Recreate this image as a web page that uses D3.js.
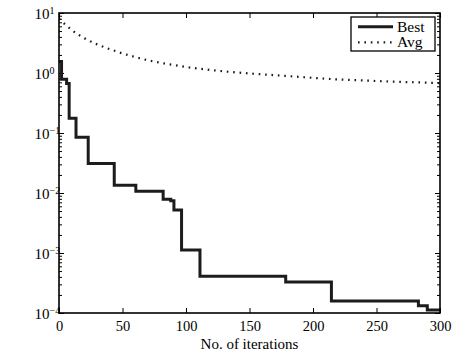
<!DOCTYPE html>
<html><head><meta charset="utf-8">
<script src="https://cdn.jsdelivr.net/npm/d3@7"></script>
<style>body{margin:0;background:#fff}</style>
</head><body>
<svg id="c" width="464" height="358"></svg>
<script>
const xTickValues = [0, 50, 100, 150, 200, 250, 300];
const yExponents = [1, 0, -1, -2, -3, -4];
const seriesNames = ["Best", "Avg"];
const xLabel = "No. of iterations";

const bestIter = [0, 2, 6, 8, 13.4, 23, 43.5, 60.5, 82, 88, 90.5, 96.5, 111, 178.5, 214.5, 283, 290, 300];
const bestVal  = [1.55, 0.79, 0.67, 0.176, 0.085, 0.031, 0.0135, 0.0107, 0.0079, 0.0074, 0.0052, 0.00112, 0.00041, 0.00033, 0.000158, 0.000132, 0.000112, 0.000112];

const avgIter = [0, 5, 10, 15, 20, 30, 40, 50, 60, 70, 80, 90, 100, 120, 140, 160, 180, 200, 220, 240, 260, 280, 300];
const avgVal  = [8.0, 6.4, 5.2, 4.4, 3.8, 3.0, 2.5, 2.12, 1.85, 1.63, 1.48, 1.36, 1.26, 1.12, 1.02, 0.95, 0.89, 0.83, 0.78, 0.75, 0.72, 0.70, 0.68];

const svg = d3.select("#c");
const font = "'Liberation Serif','Times New Roman',serif";
const X0 = 59, X1 = 440, Y0 = 13, Y1 = 313;
const x = d3.scaleLinear().domain([0, 300]).range([X0, X1]);
const y = d3.scaleLog().domain([1e-4, 1e1]).range([Y1, Y0]);

svg.append("rect").attr("width", 464).attr("height", 358).attr("fill", "#fff");

const minor = [];
for (let e = -4; e < 1; e++) for (let k = 2; k <= 9; k++) minor.push(k * Math.pow(10, e));
const major = yExponents.map(e => Math.pow(10, e));

function styleAxis(g) {
  g.select(".domain").remove();
  g.selectAll("line").attr("stroke", "#000").attr("stroke-width", 1);
}

// x axis bottom
const gx = svg.append("g").attr("transform", `translate(0,${Y1})`)
  .call(d3.axisBottom(x).tickValues(xTickValues).tickSize(-5).tickPadding(8).tickFormat(d3.format("d")));
styleAxis(gx);
gx.selectAll("text").attr("font-family", font).attr("font-size", 14.5).attr("fill", "#000");
// x axis top
const gxt = svg.append("g").attr("transform", `translate(0,${Y0})`)
  .call(d3.axisTop(x).tickValues(xTickValues).tickSize(-5).tickFormat(""));
styleAxis(gxt);

// y axis left major
const gy = svg.append("g").attr("transform", `translate(${X0},0)`)
  .call(d3.axisLeft(y).tickValues(major).tickSize(-5).tickPadding(0).tickFormat(""));
styleAxis(gy);
gy.selectAll(".tick").each(function (d) {
  const e = Math.round(Math.log10(d));
  const t = d3.select(this).append("text")
    .attr("x", -24.5).attr("y", 5).attr("text-anchor", "start")
    .attr("font-family", font).attr("font-size", 15).attr("fill", "#000");
  t.append("tspan").text("10");
  t.append("tspan").attr("font-size", 10).attr("dy", -5).text(e < 0 ? "\u2212" + (-e) : String(e));
});
const gym = svg.append("g").attr("transform", `translate(${X0},0)`)
  .call(d3.axisLeft(y).tickValues(minor).tickSize(-3).tickFormat(""));
styleAxis(gym);
// y axis right
const gyr = svg.append("g").attr("transform", `translate(${X1},0)`)
  .call(d3.axisRight(y).tickValues(major).tickSize(-5).tickFormat(""));
styleAxis(gyr);
const gyrm = svg.append("g").attr("transform", `translate(${X1},0)`)
  .call(d3.axisRight(y).tickValues(minor).tickSize(-3).tickFormat(""));
styleAxis(gyrm);

// clip
svg.append("clipPath").attr("id", "clip").append("rect")
  .attr("x", X0).attr("y", Y0 - 2).attr("width", X1 - X0).attr("height", Y1 - Y0 + 2);

const best = bestIter.map((v, i) => [v, bestVal[i]]);
const avg = avgIter.map((v, i) => [v, avgVal[i]]);

svg.append("path").datum(avg).attr("clip-path", "url(#clip)")
  .attr("fill", "none").attr("stroke", "#1a1a1a").attr("stroke-width", 2.2)
  .attr("stroke-dasharray", "1.6,4.8")
  .attr("d", d3.line().x(d => x(d[0])).y(d => y(d[1])).curve(d3.curveMonotoneX));

svg.append("path").datum(best).attr("clip-path", "url(#clip)")
  .attr("fill", "none").attr("stroke", "#1c1c1c").attr("stroke-width", 3)
  .attr("d", d3.line().x(d => x(d[0])).y(d => y(d[1])).curve(d3.curveStepAfter));

// frame
svg.append("rect").attr("x", X0).attr("y", Y0).attr("width", X1 - X0).attr("height", Y1 - Y0)
  .attr("fill", "none").attr("stroke", "#000").attr("stroke-width", 1.6);

// x label
svg.append("text").attr("x", (X0 + X1) / 2).attr("y", 349).attr("text-anchor", "middle")
  .attr("font-family", font).attr("font-size", 15).attr("fill", "#000").text(xLabel);

// legend
const lg = svg.append("g");
lg.append("rect").attr("x", 351).attr("y", 17).attr("width", 84).attr("height", 34)
  .attr("fill", "#fff").attr("stroke", "#000").attr("stroke-width", 1.3);
const lys = [26.7, 42.3];
seriesNames.forEach((n, i) => {
  lg.append("line").attr("x1", 358).attr("x2", 393).attr("y1", lys[i]).attr("y2", lys[i])
    .attr("stroke", "#1c1c1c").attr("stroke-width", i === 0 ? 3 : 2.2)
    .attr("stroke-dasharray", i === 0 ? null : "1.6,4.8");
  lg.append("text").attr("x", 397).attr("y", lys[i] + 5).attr("font-family", font)
    .attr("font-size", 15.5).attr("fill", "#000").text(n);
});
</script>
</body></html>
